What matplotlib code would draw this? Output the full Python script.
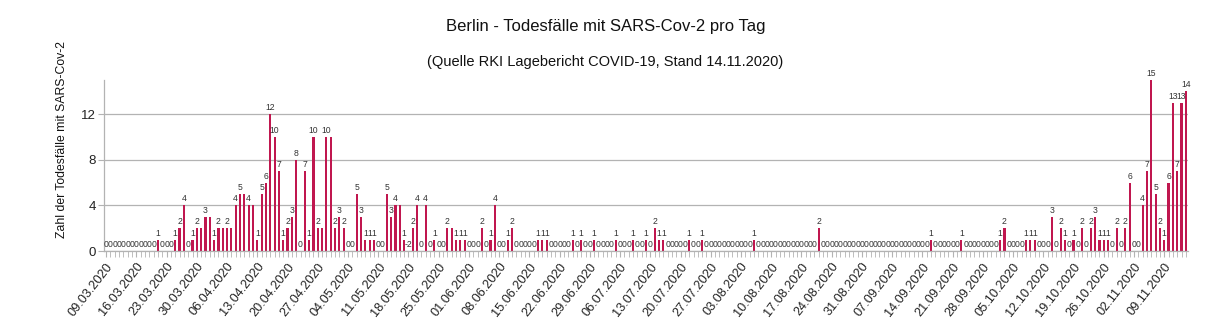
import matplotlib
matplotlib.use("Agg")
import matplotlib.pyplot as plt
import numpy as np
import pandas as pd

title = "Berlin - Todesfälle mit SARS-Cov-2 pro Tag"
subtitle = "(Quelle RKI Lagebericht COVID-19, Stand 14.11.2020)"
ylabel = "Zahl der Todesfälle mit SARS-Cov-2"
start_date = "2020-03-09"
yticks = [0, 4, 8, 12]

deaths = [
    0, 0, 0, 0, 0, 0, 0,
    0, 0, 0, 0, 0, 1, 0,
    0, 0, 1, 2, 4, 0, 1,
    2, 2, 3, 3, 1, 2, 2,
    2, 2, 4, 5, 5, 4, 4,
    1, 5, 6, 12, 10, 7, 1,
    2, 3, 8, 0, 7, 1, 10,
    2, 2, 10, 10, 2, 3, 2,
    0, 0, 5, 3, 1, 1, 1,
    0, 0, 5, 3, 4, 4, 1,
    -2, 2, 4, 0, 4, 0, 1,
    0, 0, 2, 2, 1, 1, 1,
    0, 0, 0, 2, 0, 1, 4,
    0, 0, 1, 2, 0, 0, 0,
    0, 0, 1, 1, 1, 0, 0,
    0, 0, 0, 1, 0, 1, 0,
    0, 1, 0, 0, 0, 0, 1,
    0, 0, 0, 1, 0, 0, 1,
    0, 2, 1, 1, 0, 0, 0,
    0, 0, 1, 0, 0, 1, 0,
    0, 0, 0, 0, 0, 0, 0,
    0, 0, 0, 1, 0, 0, 0,
    0, 0, 0, 0, 0, 0, 0,
    0, 0, 0, 0, 2, 0, 0,
    0, 0, 0, 0, 0, 0, 0,
    0, 0, 0, 0, 0, 0, 0,
    0, 0, 0, 0, 0, 0, 0,
    0, 0, 1, 0, 0, 0, 0,
    0, 0, 1, 0, 0, 0, 0,
    0, 0, 0, 0, 1, 2, 0,
    0, 0, 0, 1, 1, 1, 0,
    0, 0, 3, 0, 2, 1, 0,
    1, 0, 2, 0, 2, 3, 1,
    1, 1, 0, 2, 0, 2, 6,
    0, 0, 4, 7, 15, 5, 2,
    1, 6, 13, 7, 13, 14,
]

plt.rcParams['font.family'] = ['Liberation Sans', 'DejaVu Sans']

W, H = 1211, 327
fig = plt.figure(figsize=(W / 100, H / 100), dpi=100)
left, right, top, bottom = 104, 1188, 80, 251
ax = fig.add_axes([left / W, (H - bottom) / H, (right - left) / W, (bottom - top) / H])

vals = np.array(deaths)
n = len(vals)
x = np.arange(n)
dates = pd.date_range(start_date, periods=n, freq="D")

bar_color = "#c0174f"
grid_color = "#b3b3b3"

ax.bar(x, vals, width=0.5, color=bar_color, zorder=2)
ax.set_xlim(-0.5, n - 0.5)
ax.set_ylim(0, 15)

ax.set_yticks(yticks)
ax.yaxis.grid(True, color=grid_color, linewidth=0.9)
ax.set_axisbelow(True)
ax.tick_params(axis="y", length=4, color=grid_color, labelsize=9.5, pad=2, labelcolor="#222222")

major = x[::7]
ax.set_xticks(major)
ax.set_xticklabels([d.strftime("%d.%m.%Y") for d in dates[::7]], rotation=52,
                   ha="right", va="top", rotation_mode="anchor", fontsize=9.2, color="#222222")
ax.set_xticks(x, minor=True)
ax.tick_params(axis="x", which="both", length=4, color=grid_color, pad=3)

for s in ["top", "right"]:
    ax.spines[s].set_visible(False)
for s in ["left", "bottom"]:
    ax.spines[s].set_color(grid_color)
    ax.spines[s].set_linewidth(0.9)

prev_shown = None
for i, v in enumerate(vals):
    if prev_shown is not None and prev_shown == v and v >= 2:
        prev_shown = None
        continue
    ax.annotate(str(v), (i, max(v, 0)), xytext=(0, 1.5), textcoords="offset points",
                ha="center", va="bottom", fontsize=6.2, color="#333333")
    prev_shown = v

fig.text(0.5, 1 - 26 / H, title, ha="center", va="center", fontsize=12, color="#111111")
fig.text(0.5, 1 - 62 / H, subtitle, ha="center", va="center", fontsize=10.5, color="#111111")
fig.text(62 / W, 1 - 139 / H, ylabel, rotation=90, ha="center", va="center", fontsize=8.8, color="#111111")

fig.savefig("out.png", dpi=100)
